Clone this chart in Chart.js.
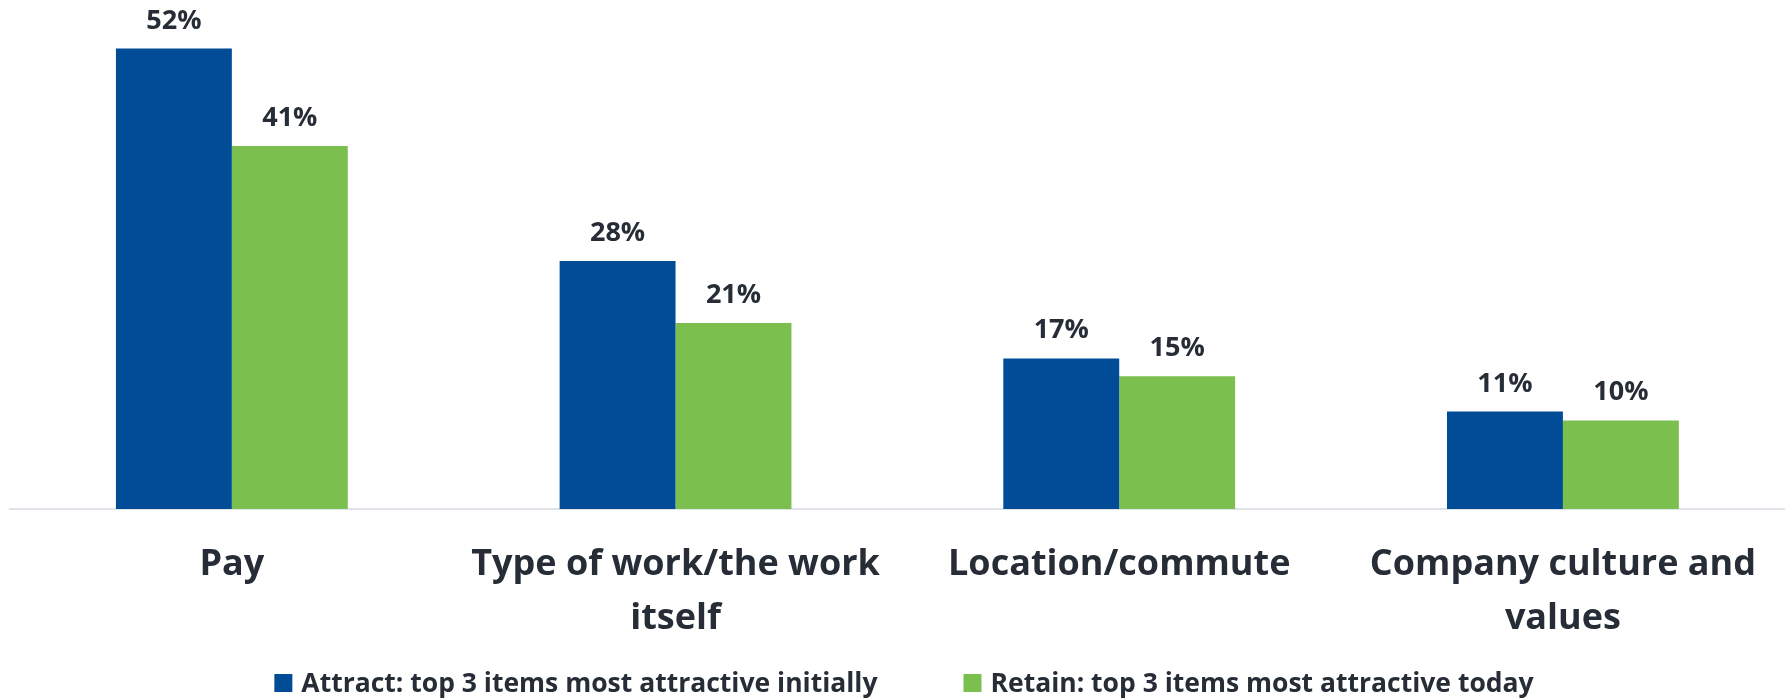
<!DOCTYPE html>
<html>
<head>
<meta charset="utf-8">
<script src="https://cdn.jsdelivr.net/npm/chart.js@4/dist/chart.umd.min.js"></script>
<style>
  html, body { margin: 0; padding: 0; background: #ffffff; }
  #wrap { width: 1785px; height: 699px; }
</style>
</head>
<body>
<div id="wrap"><canvas id="chart" width="1785" height="699"></canvas></div>
<script>
// Categories (multi-line labels as arrays)
const categories = [
  "Pay",
  ["Type of work/the work", "itself"],
  "Location/commute",
  ["Company culture and", "values"]
];
const seriesNames = [
  "Attract: top 3 items most attractive initially",
  "Retain: top 3 items most attractive today"
];
const attractValues = [52, 28, 17, 11];
const retainValues = [41, 21, 15, 10];

const BLUE = "#004c97";
const GREEN = "#7bbf4e";
const TEXT = "#262d36";
const FONT = '"Open Sans", "Noto Sans", sans-serif';

// Percent labels above each bar
const valueLabels = {
  id: "valueLabels",
  afterDatasetsDraw(chart) {
    const ctx = chart.ctx;
    ctx.save();
    ctx.font = `bold 27px ${FONT}`;
    ctx.fillStyle = TEXT;
    ctx.textAlign = "center";
    ctx.textBaseline = "alphabetic";
    chart.data.datasets.forEach((ds, di) => {
      const meta = chart.getDatasetMeta(di);
      meta.data.forEach((bar, i) => {
        ctx.fillText(ds.data[i] + "%", bar.x, bar.y - 20);
      });
    });
    ctx.restore();
  }
};

// Legend row below the axis labels
const bottomLegend = {
  id: "bottomLegend",
  afterDraw(chart) {
    const ctx = chart.ctx;
    const box = 18, gapText = 9, gapItem = 86;
    ctx.save();
    ctx.font = `bold 26.5px ${FONT}`;
    ctx.textBaseline = "alphabetic";
    ctx.textAlign = "left";
    const items = chart.data.datasets.map(ds => ({
      text: ds.label, color: ds.backgroundColor, w: ctx.measureText(ds.label).width
    }));
    let total = 0;
    items.forEach((it, i) => { total += box + gapText + it.w + (i ? gapItem : 0); });
    let x = 904 - total / 2;
    const base = 692;
    items.forEach(it => {
      ctx.fillStyle = it.color;
      ctx.fillRect(x, base - box, box, box);
      ctx.fillStyle = TEXT;
      ctx.fillText(it.text, x + box + gapText, base);
      x += box + gapText + it.w + gapItem;
    });
    ctx.restore();
  }
};

new Chart(document.getElementById("chart"), {
  type: "bar",
  data: {
    labels: categories,
    datasets: [
      { label: seriesNames[0], data: attractValues, backgroundColor: BLUE },
      { label: seriesNames[1], data: retainValues, backgroundColor: GREEN }
    ]
  },
  options: {
    responsive: false,
    devicePixelRatio: 1,
    animation: false,
    layout: { padding: { left: 10, right: 0, top: 22, bottom: 24 } },
    datasets: {
      bar: { categoryPercentage: 0.5225, barPercentage: 1.0, borderWidth: 0 }
    },
    plugins: {
      legend: { display: false },
      tooltip: { enabled: false }
    },
    scales: {
      x: {
        grid: { display: true, drawOnChartArea: false, drawTicks: false },
        border: { display: true, color: "#dfe3e8", width: 2 },
        ticks: {
          color: TEXT,
          padding: 29,
          maxRotation: 0,
          autoSkip: false,
          font: { family: FONT, size: 36, weight: "bold", lineHeight: 1.5 }
        }
      },
      y: {
        display: false,
        min: 0,
        max: 55
      }
    }
  },
  plugins: [valueLabels, bottomLegend]
});
</script>
</body>
</html>
